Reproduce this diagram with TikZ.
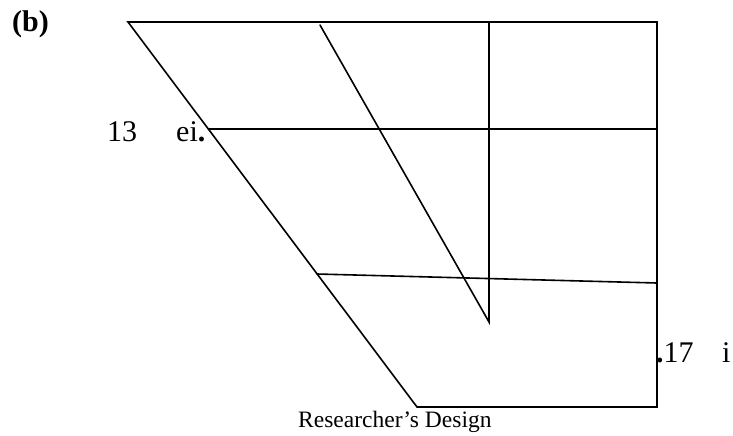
\documentclass[tikz,border=0pt]{standalone}
\usepackage{fontspec}
\setmainfont{Liberation Serif}
\usetikzlibrary{positioning, calc}
\tikzset{
    edge/.style = {draw, line width=1.6pt, line cap=round, line join=miter},
    big/.style = {font=\fontsize{30}{32}\selectfont, inner sep=0pt},
    small/.style = {font=\fontsize{23.5}{25}\selectfont, inner sep=0pt}
}

\begin{document}
\begin{tikzpicture}[x=1pt, y=-1pt]
\useasboundingbox (0,0) rectangle (733,436);

% Outer frame
\coordinate (TL) at (128, 22);
\coordinate (TR) at (657, 22);
\coordinate (BR) at (657, 407);
\coordinate (BL) at (417, 407);

% Inner lines
\coordinate (D1) at (320, 25);
\coordinate (D2) at (489, 322);
\coordinate (V1) at (489, 22);
\coordinate (H1) at (208.5, 129);
\coordinate (H2) at (657, 129);
\coordinate (L1) at (317, 274);
\coordinate (L2) at (657, 283);

% Frame
\draw[edge] (TL) -- (TR) -- (BR) -- (BL) -- cycle;

% Second slant with its vertical
\draw[edge] (D1) -- (D2) -- (V1);

% Cross lines
\draw[edge] (H1) -- (H2);
\draw[edge] (L1) -- (L2);

% Labels
\node[big, anchor=base west, font=\fontsize{30}{32}\selectfont\bfseries] (lab) at (12, 32) {(b)};
\node[big, anchor=base west] (left) at (107, 141) {13\hspace{1.3em}ei\textbf{.}};
\node[big, anchor=base west] (right) at (656, 362) {\textbf{.}17\hspace{0.95em}i};
\node[small, anchor=base west] (src) at (298, 427) {Researcher’s Design};
\end{tikzpicture}
\end{document}
